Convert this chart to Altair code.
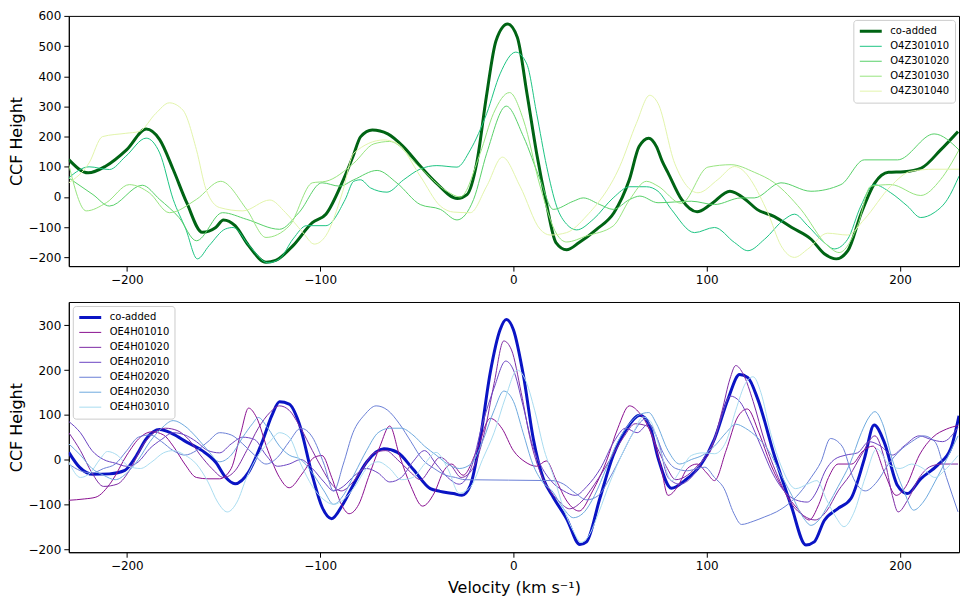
import altair as alt
import pandas as pd

# ---------------- data (velocity km/s, CCF height) ----------------
TOP_SERIES = ["co-added", "O4Z301010", "O4Z301020", "O4Z301030", "O4Z301040"]
TOP_COLORS = ["#006414", "#1dc483", "#57d068", "#98e47f", "#e2f4ab"]
TOP_WIDTHS = [3, 1, 1, 1, 1]

TOP_COADD = [[-230, 124], [-220, 80], [-211, 102], [-200, 157], [-190, 225], [-183, 190], [-176, 91],
             [-169, -19], [-161, -117], [-154, -101], [-150, -76], [-144, -95], [-137, -161], [-128, -216],
             [-123, -210], [-114, -161], [-104, -85], [-97, -57], [-88, 57], [-83, 134], [-79, 200],
             [-73, 222], [-65, 209], [-57, 167], [-48, 101], [-40, 47], [-29, -5], [-24, 8], [-19, 112],
             [-14, 332], [-9, 518], [-3, 573], [2, 529], [7, 343], [12, 145], [17, -19], [22, -151],
             [27.5, -175], [34, -151], [43, -107], [52, -52], [60, 58], [65, 167], [70, 195], [74, 167],
             [77, 118], [80, 80], [87, -8], [95, -49], [102, -25], [112, 19], [120, -8], [126, -41],
             [135, -65], [144, -101], [154, -140], [161, -189], [167, -205], [173, -178], [180, -52],
             [187, 47], [194, 82], [202, 84], [211, 96], [221, 156], [230, 217]]
TOP_O4Z301010 = [[-230, 64], [-219.5, 100], [-209, 91], [-200.5, 135], [-190, 195], [-183, 146], [-176, -8],
                 [-169.5, -106], [-163.5, -205], [-157.4, -161], [-149, -106], [-145, -101], [-136.7, -161],
                 [-127, -218], [-121, -205], [-114, -139], [-107, -95], [-97, -95], [-87, -8], [-82.6, 52],
                 [-79.1, 57], [-73.9, 30], [-65.4, 16], [-56.8, 57], [-48.1, 93], [-39.6, 104], [-29.2, 99],
                 [-22.3, 156], [-13.8, 277], [-6.9, 408], [1.2, 480], [6.9, 441], [12, 277], [17.2, 101],
                 [22.3, -30], [27.5, -90], [32.7, -109], [41.3, -74], [51.6, -3], [60.2, 34], [68.8, 34],
                 [74.8, 19], [81.7, -41], [93.7, -118], [104, -101], [114.4, -151], [121.3, -178],
                 [129.9, -140], [140.2, -74], [145.4, -57], [152.2, -95], [160.8, -151], [166, -172],
                 [172.9, -140], [179.7, -30], [186.6, 41], [195.2, 14], [203.8, -30], [210.7, -68],
                 [217.6, -52], [224.5, -8], [230.5, 69]]
TOP_O4Z301020 = [[-230, 63], [-217.5, 8], [-209, -30], [-192, 39], [-183, -8], [-173, -68], [-164, -145],
                 [-150.5, -52], [-138, -74], [-121, -107], [-111, -52], [-99, 47], [-90, 36], [-82.6, 57],
                 [-70.5, 88], [-60.2, 46], [-48.2, -25], [-37.8, -41], [-29.2, -76], [-20.6, -8],
                 [-13.8, 145], [-3.7, 301], [5.2, 200], [13.8, 58], [20.6, -41], [31, -14], [36.1, -3],
                 [44.7, -25], [51.6, -41], [60.2, -8], [65.4, 3], [74.8, -19], [92, -14], [104, -25],
                 [117.8, -3], [124.6, -3], [138.4, 47], [153.9, 19], [169.4, 41], [181.5, 123],
                 [198.7, 123], [217.6, 209], [230.5, 156]]
TOP_O4Z301030 = [[-230, 107], [-221, -46], [-210.6, -19], [-198.7, 41], [-188.4, 14], [-178, -52], [-164, -8],
                 [-151.4, 52], [-138, -41], [-128, -134], [-116, -96], [-104, 47], [-97, 52], [-82.6, 112],
                 [-72.2, 176], [-64, 184], [-48.2, 96], [-34.4, 19], [-27.5, 0], [-17.2, 145], [-10.3, 277],
                 [-2, 346], [5.2, 255], [13.8, 36], [22.4, -123], [27.5, -149], [37.8, -129], [51.6, -96],
                 [60.2, -8], [68.8, 52], [74.8, 36], [86.8, -21], [100.6, 99], [112.6, 107], [124.6, 82],
                 [135, 47], [148.7, -41], [162.5, -161], [168.5, -184], [178, -96], [184.9, 36],
                 [195.2, 41], [210.7, 5], [221, 58], [230.5, 156]]
TOP_O4Z301040 = [[-230, 47], [-219.5, 113], [-212.6, 200], [-200.5, 211], [-193.6, 217], [-185, 277],
                 [-178, 312], [-171, 288], [-164, 157], [-159, 25], [-152, -35], [-140, -46], [-126, -10],
                 [-118, -51], [-109, -117], [-103, -156], [-97, -128], [-88.5, 14], [-82.6, 145], [-67, 189],
                 [-60.2, 178], [-48.2, 69], [-37.8, -30], [-30.9, -50], [-22.3, -52], [-13.8, 36],
                 [-5.7, 132], [3.4, 36], [13.8, -107], [19, -126], [27.5, -118], [37.8, -63], [55, 101],
                 [63.6, 244], [70.5, 337], [74.8, 310], [83.4, 112], [95.5, 14], [105.8, 58], [114.4, 101],
                 [131.6, -52], [138.4, -161], [145.4, -200], [152.2, -173], [162.5, -120], [172.9, -126],
                 [181.5, -74], [195.2, 36], [205.5, 85], [217.6, 92], [230.5, 92]]

BOT_SERIES = ["co-added", "OE4H01010", "OE4H01020", "OE4H02010", "OE4H02020", "OE4H02030", "OE4H03010"]
BOT_COLORS = ["#0a14c4", "#8a1090", "#7d2aa4", "#6b44c2", "#6a7fd6", "#6eaade", "#a9dcf0"]
BOT_WIDTHS = [3, 1, 1, 1, 1, 1, 1]

BOT_COADD = [[-230, 16], [-224.5, -17], [-217.5, -33], [-209, -32], [-201, -24], [-195, 9], [-190, 46],
             [-183, 67], [-176, 57], [-169, 39], [-161, 20], [-154, -6], [-149, -39], [-144, -54],
             [-137, -28], [-130, 39], [-125, 98], [-121, 129], [-116, 124], [-111, 83], [-104, -36],
             [-99, -106], [-94, -132], [-88.5, -102], [-83, -58], [-76, -6], [-67, 24], [-60, 16],
             [-52, -21], [-43, -65], [-38, -71], [-31, -76], [-26.6, -80], [-22.3, -58], [-17.2, 46],
             [-12, 194], [-6.9, 290], [-3.7, 313], [0, 290], [5.2, 187], [10.3, 46], [15.5, -43],
             [20.6, -84], [27.5, -132], [34.4, -190], [37.8, -184], [44.7, -87], [51.6, 9], [58.5, 68],
             [65.4, 99], [70.5, 76], [75, 1], [81.7, -64], [88.6, -47], [97.2, -10], [104, 46],
             [111, 135], [117, 190], [121.3, 183], [126.4, 135], [135, 9], [143.6, -102], [151.3, -191],
             [155.6, -184], [160.8, -136], [167.7, -110], [174.6, -87], [181.5, 1], [186.6, 77],
             [191.8, 39], [198.7, -58], [203.8, -76], [210.7, -43], [219.3, -13], [226.2, 24], [230.5, 98]]
BOT_OE4H01010 = [[-230, -91], [-222, -88], [-216, -84], [-208, -50], [-200, 10], [-193, 50], [-187, 62],
                 [-181, 55], [-176, 30], [-170, -10], [-164, -40], [-158, -43], [-152, -43], [-146, -20],
                 [-141, 60], [-137, 115], [-133, 95], [-127, 20], [-121, -40], [-116, -63], [-109, -30],
                 [-103, 5], [-99, 9], [-94, -40], [-89, -100], [-85, -121], [-80, -100], [-75, -40],
                 [-69, 30], [-64, 75], [-59, 10], [-53, -60], [-47, -104], [-41, -75], [-36, -25],
                 [-32, -10], [-26, -35], [-19, 20], [-12, 92], [-6, 70], [0, 20], [6, -5], [12, -15],
                 [17, -3], [22, -45], [28, -95], [34, -115], [41, -70], [48, -5], [54, 70], [60, 120],
                 [65, 105], [71, 60], [76, -10], [80, -80], [85, -60], [90, -20], [95, -10], [100, -30],
                 [104, -47], [110, 20], [116, 95], [121, 113], [127, 60], [133, -10], [140, -70],
                 [147, -110], [153, -135], [158, -100], [163, -40], [168, -10], [175, -10], [181, 20],
                 [186, 30], [192, -30], [198, -80], [203, -60], [210, 10], [217, 50], [224, 68], [230, 76]]
BOT_OE4H01020 = [[-230, 60], [-224, 20], [-218, -30], [-212, -60], [-205, -55], [-198, -20], [-192, 30],
                 [-186, 60], [-180, 70], [-174, 65], [-168, 45], [-162, 10], [-156, -20], [-150, -40],
                 [-144, -25], [-138, 20], [-132, 70], [-126, 105], [-121, 120], [-116, 110], [-110, 70],
                 [-104, 20], [-99, -20], [-94, -55], [-89, -70], [-84, -55], [-78, -20], [-72, 15],
                 [-66, 20], [-60, 0], [-54, -25], [-48, -45], [-43, -20], [-38, 5], [-32, -15], [-27, -40],
                 [-21, -20], [-15, 60], [-10, 170], [-5, 265], [-1, 245], [4, 150], [9, 40], [14, -30],
                 [19, -70], [24, -95], [29, -110], [35, -95], [42, -55], [50, 0], [57, 50], [63, 80],
                 [69, 75], [74, 30], [79, -15], [84, -45], [90, -35], [96, -10], [102, 20], [108, 110],
                 [112, 180], [115, 210], [119, 190], [124, 130], [130, 40], [137, -40], [144, -100],
                 [150, -125], [156, -135], [162, -115], [168, -70], [174, -35], [180, 10], [187, 53],
                 [192, 0], [196, -80], [199, -117], [204, -90], [210, -40], [216, -15], [222, -10], [230, -10]]
BOT_OE4H02010 = [[-230, 85], [-224, 60], [-218, 20], [-212, 0], [-206, -8], [-200, -15], [-194, -5],
                 [-188, 25], [-182, 45], [-176, 60], [-170, 55], [-164, 40], [-158, 20], [-152, 15],
                 [-146, 35], [-140, 50], [-134, 45], [-128, 10], [-122, -15], [-116, -10], [-110, 0],
                 [-104, -20], [-98, -50], [-93, -70], [-88, -60], [-82, -35], [-76, -20], [-70, -30],
                 [-64, -50], [-58, -40], [-52, -5], [-46, 20], [-40, -10], [-34, -40], [-28, -55],
                 [-22, -20], [-16, 80], [-10, 160], [-4, 220], [0, 200], [5, 120], [10, 30], [15, -20],
                 [20, -50], [26, -70], [32, -80], [38, -60], [45, -20], [52, 40], [58, 70], [64, 60],
                 [70, 80], [75, 40], [80, -40], [86, -55], [92, -40], [98, 0], [104, 46], [108, 100],
                 [112, 142], [117, 130], [122, 90], [128, 30], [134, -30], [140, -70], [146, -90],
                 [152, -95], [157, -70], [161, -28], [166, 0], [172, 10], [178, 15], [184, 40], [190, 30],
                 [196, 10], [202, 30], [210, 53], [216, 45], [222, 40], [230, 72]]
BOT_OE4H02020 = [[-230, -10], [-224, -25], [-218, -30], [-212, -20], [-206, -10], [-200, 20], [-194, 50],
                 [-188, 55], [-182, 40], [-176, 20], [-170, 10], [-164, 20], [-158, 40], [-152, 60],
                 [-146, 55], [-140, 35], [-134, 10], [-128, -10], [-122, 5], [-116, 40], [-110, 70],
                 [-104, 50], [-98, -10], [-93, -70], [-88, -10], [-83, 60], [-77, 100], [-71, 120],
                 [-65, 110], [-59, 80], [-53, 40], [-47, 0], [-41, -20], [-35, -35], [-30, -40], [-25, -45],
                 [20, -47], [26, -55], [32, -75], [38, -90], [44, -80], [50, -40], [56, 10], [62, 60],
                 [68, 90], [73, 60], [78, 10], [84, -20], [90, -25], [95, -20], [99, -17], [104, -40],
                 [109, -65], [114, -120], [118, -145], [124, -138], [130, -128], [136, -117], [142, -100],
                 [148, -75], [154, -40], [159, -6], [164, 47], [170, 30], [176, -43], [182, -70],
                 [188, -50], [194, -10], [200, 20], [206, 40], [212, 53], [218, 40], [224, -40], [230, -117]]
BOT_OE4H02030 = [[-230, 35], [-224, 10], [-218, -20], [-212, -35], [-206, -45], [-200, -30], [-194, 0],
                 [-188, 40], [-182, 70], [-176, 87], [-170, 75], [-164, 50], [-158, 20], [-152, -5],
                 [-146, 10], [-140, 50], [-135, 80], [-132, 94], [-127, 70], [-121, 30], [-116, 10],
                 [-110, 0], [-104, -30], [-98, -70], [-93, -100], [-88, -80], [-82, -30], [-76, 20],
                 [-70, 60], [-64, 70], [-58, 70], [-52, 55], [-46, 30], [-40, 10], [-34, -10], [-28, -20],
                 [-22, -10], [-16, 40], [-10, 110], [-5, 153], [0, 130], [5, 60], [10, -10], [15, -50],
                 [20, -70], [26, -110], [31, -130], [36, -120], [42, -80], [48, -20], [54, 40], [60, 80],
                 [65, 100], [70, 105], [74, 80], [80, 20], [86, -10], [92, 0], [98, 10], [104, 30],
                 [110, 60], [115, 79], [120, 70], [126, 50], [132, 20], [138, -30], [144, -80], [150, -130],
                 [154, -147], [158, -135], [163, -100], [168, -60], [174, -10], [180, 60], [184, 95],
                 [187, 107], [191, 80], [196, 0], [202, -70], [207, -113], [212, -95], [218, -50],
                 [224, 0], [230, 53]]
BOT_OE4H03010 = [[-230, -5], [-224, -40], [-219, -30], [-214, 0], [-210, 18], [-205, 10], [-199, -15],
                 [-193, -20], [-187, -5], [-181, 15], [-176, 20], [-170, 10], [-164, -10], [-158, -50],
                 [-153, -95], [-148, -117], [-143, -95], [-138, -40], [-132, 10], [-126, 40], [-121, 60],
                 [-116, 50], [-110, -10], [-104, -60], [-98, -90], [-93, -100], [-88, -90], [-82, -60],
                 [-76, -20], [-70, -5], [-64, -20], [-58, -45], [-52, -40], [-46, -10], [-40, 16],
                 [-34, -20], [-28, -75], [-22, -60], [-16, 0], [-10, 60], [-4, 140], [2, 200], [6, 180],
                 [11, 110], [16, 20], [21, -40], [26, -110], [31, -160], [35, -185], [39, -170], [44, -120],
                 [50, -50], [56, 10], [62, 60], [67, 95], [71, 85], [76, 20], [82, -47], [87, -20], [92, 9],
                 [98, 15], [104, 13], [110, 40], [115, 110], [120, 170], [124, 185], [128, 150], [133, 60],
                 [139, -20], [146, -65], [152, -55], [157, -47], [162, -90], [167, -130], [171, -150],
                 [176, -120], [182, -40], [188, 24], [194, -10], [200, -20], [206, -10], [212, -20],
                 [218, -40], [224, -20], [230, 9]]

X_TICKS = [-200, -100, 0, 100, 200]
TOP_Y_TICKS = [-200, -100, 0, 100, 200, 300, 400, 500, 600]
BOT_Y_TICKS = [-200, -100, 0, 100, 200, 300]


def to_df(series_names, series_data):
    rows = []
    for name, pts in zip(series_names, series_data):
        for i, (v, y) in enumerate(pts):
            rows.append({"series": name, "v": v, "val": y, "i": i})
    return pd.DataFrame(rows)


top_df = to_df(TOP_SERIES, [TOP_COADD, TOP_O4Z301010, TOP_O4Z301020, TOP_O4Z301030, TOP_O4Z301040])
bot_df = to_df(BOT_SERIES, [BOT_COADD, BOT_OE4H01010, BOT_OE4H01020, BOT_OE4H02010,
                            BOT_OE4H02020, BOT_OE4H02030, BOT_OE4H03010])

W, H = 893, 251


def panel(df, names, colors, widths, ydom, yticks, orient, xtitle):
    leg = alt.Legend(title=None, orient=orient, offset=4, symbolType="stroke", symbolSize=484,
                     clipHeight=13, rowPadding=2, labelFontSize=10, labelFont="DejaVu Sans",
                     labelOffset=7, padding=5, strokeColor="#cccccc", fillColor="white",
                     cornerRadius=3, labelColor="black")
    xaxis = (alt.Axis(values=X_TICKS, title=xtitle, titlePadding=8) if xtitle
             else alt.Axis(values=X_TICKS, title=None))
    base = alt.Chart(df).mark_line(interpolate="monotone", clip=True).encode(
        x=alt.X("v:Q", scale=alt.Scale(domain=[-230, 230.5], nice=False, zero=False), axis=xaxis),
        y=alt.Y("val:Q", scale=alt.Scale(domain=ydom, nice=False, zero=False),
                axis=alt.Axis(values=yticks, title="CCF Height", titlePadding=3)),
        color=alt.Color("series:N", scale=alt.Scale(domain=names, range=colors), legend=leg),
        strokeWidth=alt.StrokeWidth("series:N",
                                    scale=alt.Scale(type="ordinal", domain=names, range=widths),
                                    legend=leg),
        order="i:Q",
    )
    co = base.transform_filter(alt.datum.series == "co-added")
    rest = base.transform_filter(alt.datum.series != "co-added")
    return alt.layer(co, rest).properties(width=W, height=H)


top = panel(top_df, TOP_SERIES, TOP_COLORS, TOP_WIDTHS, [-229, 600], TOP_Y_TICKS, "top-right", None)
bot = panel(bot_df, BOT_SERIES, BOT_COLORS, BOT_WIDTHS, [-207, 352], BOT_Y_TICKS, "top-left",
            "Velocity (km s\u207b\u00b9)")

chart = alt.vconcat(top, bot, spacing=15).resolve_scale(color="independent", strokeWidth="independent") \
    .resolve_legend(color="independent", strokeWidth="independent").configure_view(
    stroke="black", strokeWidth=1
).configure_axis(
    labelFont="DejaVu Sans", labelFontSize=12, labelColor="black",
    titleFont="DejaVu Sans", titleFontSize=16, titleFontWeight="normal", titleColor="black",
    tickColor="black", domainColor="black", grid=False, tickSize=5, labelPadding=3
).properties(background="white", padding=0)

chart.save("out.html", embed_options={"renderer": "svg", "actions": False})
